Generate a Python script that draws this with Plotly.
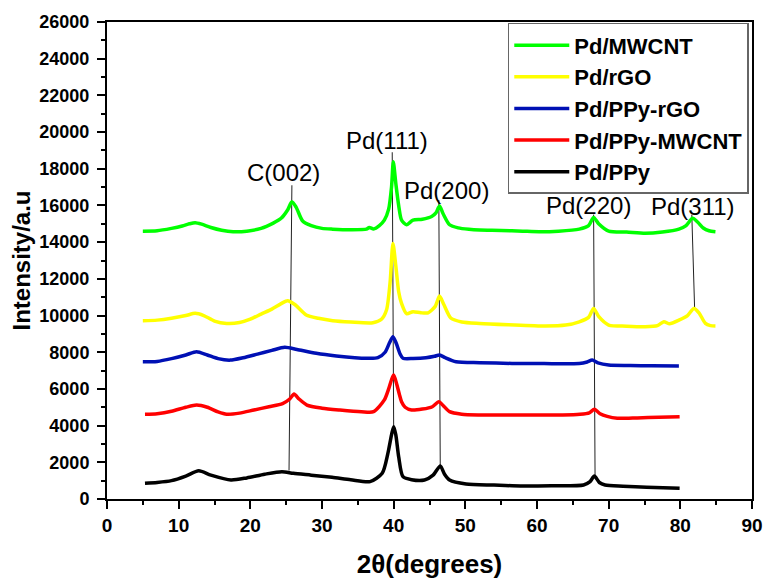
import plotly.graph_objects as go

# ---------------- data ----------------
series_names = ["Pd/MWCNT", "Pd/rGO", "Pd/PPy-rGO", "Pd/PPy-MWCNT", "Pd/PPy"]
series_colors = ["#00ff00", "#ffff00", "#0010b4", "#ff0000", "#000000"]

mwcnt_x = [5, 7, 9, 10.5, 11.5, 12.3, 13.2, 14.5, 16, 17.6, 19.5, 21.5, 23.2, 24.3, 25.2, 25.8, 26.4,
           27.3, 28.5, 30, 31.5, 34, 36.2, 36.6, 37.2, 38, 38.7, 39.3, 39.7, 39.95, 40.3, 40.7, 41.1,
           41.8, 42.7, 44, 45.3, 45.9, 46.4, 46.9, 47.8, 49, 50.5, 52, 55, 58, 60.3, 63, 65.9, 67.2,
           67.9, 68.6, 70, 72.5, 75.1, 77.5, 79.8, 80.8, 81.7, 82.4, 83.2, 84, 84.9]
mwcnt_y = [14600, 14620, 14750, 14880, 15000, 15060, 14980, 14800, 14650, 14570, 14600, 14750, 15040,
           15300, 15750, 16200, 15900, 15150, 14900, 14750, 14710, 14680, 14710, 14800, 14720, 14900,
           15200, 15800, 17000, 18380, 17200, 16000, 15200, 14950, 15200, 15250, 15400, 15600, 15970,
           15550, 14950, 14780, 14700, 14660, 14640, 14600, 14570, 14600, 14710, 14900, 15350, 15000,
           14600, 14550, 14480, 14550, 14710, 14900, 15300, 15100, 14770, 14620, 14570]

rgo_x = [5, 7, 9, 11, 12.3, 13.5, 15, 16.7, 18.5, 20, 21.5, 23, 24.3, 25.2, 26.2, 27.8, 29.5, 31.5,
         34, 37.1, 38.3, 39.0, 39.5, 39.9, 40.3, 40.7, 41.1, 41.8, 42.7, 43.8, 44.8, 45.8, 46.4, 47,
         48, 49.5, 52, 56, 61.2, 64, 65.9, 67.2, 67.9, 68.6, 70, 72.5, 75.1, 76.8, 77.7, 78.5, 79.8,
         81, 81.9, 82.6, 83.5, 84.2, 84.9]
rgo_y = [9720, 9750, 9850, 10000, 10120, 10000, 9700, 9570, 9620, 9800, 10080, 10350, 10650, 10810,
         10600, 10030, 9850, 9720, 9650, 9610, 9800, 10300, 11800, 13930, 12700, 11300, 10660, 10100,
         10210, 10150, 10150, 10500, 11060, 10600, 9850, 9650, 9570, 9500, 9430, 9480, 9660, 9900,
         10390, 9950, 9480, 9420, 9390, 9450, 9660, 9550, 9750, 10000, 10390, 10150, 9570, 9450, 9430]

ppy_rgo_x = [5, 7, 9, 11, 12.5, 14, 15.5, 17.2, 19, 21, 23, 24.8, 26.5, 29.2, 32, 36.2, 37.8, 38.8,
             39.4, 39.9, 40.4, 40.9, 41.3, 42.7, 44.5, 45.7, 46.4, 47.2, 48.7, 52, 56.5, 61, 65.9, 67,
             67.7, 68.5, 70, 73, 76, 79.8]
ppy_rgo_y = [7480, 7500, 7650, 7850, 8030, 7850, 7650, 7570, 7700, 7900, 8100, 8270, 8150, 7940, 7800,
             7670, 7700, 8000, 8500, 8850, 8450, 7900, 7670, 7660, 7700, 7780, 7850, 7700, 7480, 7430,
             7390, 7380, 7390, 7470, 7570, 7420, 7300, 7280, 7260, 7250]

ppy_mwcnt_x = [5.3, 7, 9, 11, 12.5, 14, 15.5, 16.7, 18.5, 20.5, 22.6, 24.5, 25.5, 26.1, 26.8, 27.9,
               30, 32.5, 35.5, 37.2, 38.7, 39.3, 39.7, 40, 40.4, 40.8, 41.1, 41.6, 42.5, 44, 45.4,
               46.3, 46.9, 47.8, 49.5, 51.9, 56, 60, 63.6, 66, 67.3, 68, 68.8, 69.8, 71.2, 74, 77, 79.9]
ppy_mwcnt_y = [4620, 4650, 4780, 5000, 5120, 5000, 4750, 4620, 4680, 4850, 5030, 5200, 5450, 5720,
               5450, 5120, 4950, 4850, 4760, 4760, 5400, 6000, 6500, 6760, 6300, 5700, 5300, 5000,
               4850, 4900, 5030, 5300, 5100, 4760, 4620, 4580, 4580, 4580, 4580, 4620, 4700, 4890,
               4650, 4500, 4400, 4420, 4460, 4490]

ppy_x = [5.3, 7, 9, 11, 12.8, 14.5, 17.3, 19.5, 22, 24.4, 26, 28.5, 31.4, 34, 36.7, 38.4, 39.2, 39.7,
         40, 40.3, 40.7, 41.3, 42.5, 44.3, 45.5, 46.5, 47.1, 47.8, 50.1, 54, 57.7, 62, 66.5, 67.4, 68,
         68.7, 69.5, 72, 75.3, 79.9]
ppy_y = [855, 900, 1000, 1250, 1540, 1300, 1035, 1150, 1350, 1490, 1400, 1300, 1180, 1050, 945, 1400,
         2500, 3500, 3940, 3500, 2300, 1215, 1050, 1035, 1300, 1800, 1350, 1035, 820, 760, 710, 720,
         765, 950, 1250, 900, 765, 700, 640, 580]

peak_labels = ["C(002)", "Pd(111)", "Pd(200)", "Pd(220)", "Pd(311)"]
label_x = [24.6, 39.1, 47.4, 67.2, 81.7]
label_y = [17820, 19560, 16840, 16020, 15970]
guide_x_top = [25.8, 39.8, 46.3, 67.9, 81.6]
guide_y_top = [17100, 18900, 16300, 15500, 15500]
guide_x_bottom = [25.4, 40.0, 46.5, 68.1, 82.0]
guide_y_bottom = [1550, 3900, 1800, 1300, 10300]

x_ticks = list(range(0, 91, 10))
y_ticks = list(range(0, 26001, 2000))

# ---------------- figure ----------------
FONT = "Liberation Sans, Arial, sans-serif"
fig = go.Figure()

# guide lines (drawn below the curves)
for xt, yt, xb, yb in zip(guide_x_top, guide_y_top, guide_x_bottom, guide_y_bottom):
    fig.add_trace(go.Scatter(x=[xt, xb], y=[yt, yb], mode="lines",
                             line=dict(color="#222222", width=1),
                             showlegend=False, hoverinfo="skip"))

all_x = [mwcnt_x, rgo_x, ppy_rgo_x, ppy_mwcnt_x, ppy_x]
all_y = [mwcnt_y, rgo_y, ppy_rgo_y, ppy_mwcnt_y, ppy_y]
for name, color, xs, ys in zip(series_names, series_colors, all_x, all_y):
    fig.add_trace(go.Scatter(x=xs, y=ys, mode="lines", name=name,
                             line=dict(color=color, width=3.5, shape="spline", smoothing=0.7)))

for lab, lx, ly in zip(peak_labels, label_x, label_y):
    fig.add_annotation(x=lx, y=ly, text=lab, showarrow=False,
                       font=dict(family=FONT, size=24, color="black"))

fig.update_layout(
    width=763, height=580,
    margin=dict(l=107, r=11, t=22, b=81),
    plot_bgcolor="white", paper_bgcolor="white",
    font=dict(family=FONT, color="black"),
    showlegend=True,
    legend=dict(x=0.995, y=0.998, xanchor="right", yanchor="top",
                bgcolor="white", bordercolor="#666666", borderwidth=1.5,
                font=dict(family=FONT, size=22, color="black", weight="bold"),
                itemwidth=55, tracegroupgap=0),
)

fig.update_xaxes(
    range=[0, 90], tickvals=x_ticks, showgrid=False, zeroline=False, automargin=False,
    showline=True, linecolor="black", linewidth=2, mirror=True,
    ticks="outside", ticklen=8, tickwidth=2, tickcolor="black",
    minor=dict(dtick=5, ticks="outside", ticklen=4, tickwidth=2, tickcolor="black", showgrid=False),
    tickfont=dict(family=FONT, size=19, color="black", weight="bold"),
    title=dict(text="2θ(degrees)", standoff=20,
               font=dict(family=FONT, size=26, color="black", weight="bold")),
)
fig.update_yaxes(
    range=[0, 26000], tickvals=y_ticks, tickformat="d", showgrid=False, zeroline=False, automargin=False,
    showline=True, linecolor="black", linewidth=2, mirror=True,
    ticks="outside", ticklen=8, tickwidth=2, tickcolor="black", ticklabelstandoff=4,
    minor=dict(dtick=1000, ticks="outside", ticklen=4, tickwidth=2, tickcolor="black", showgrid=False),
    tickfont=dict(family=FONT, size=18, color="black", weight="bold"),
    title=dict(text="Intensity/a.u", standoff=2,
               font=dict(family=FONT, size=24, color="black", weight="bold")),
)

# remove the default page margin so the 763x580 figure fills the window exactly
fig.write_html("out.html", config={"displayModeBar": False},
               post_script="document.body.style.margin='0';document.body.style.overflow='hidden';")
